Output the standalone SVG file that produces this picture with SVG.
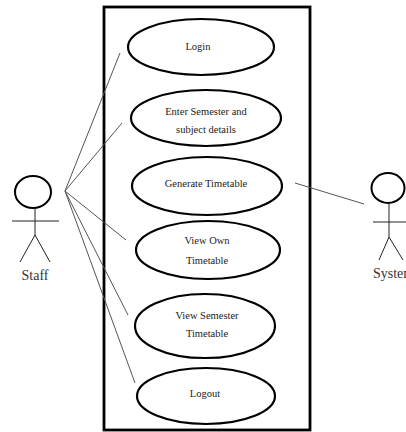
<svg xmlns="http://www.w3.org/2000/svg" width="406" height="432" viewBox="0 0 406 432">
<style>
.uc ellipse{fill:#fff;stroke:#000;stroke-width:2.2}
.lbl{font-family:"Liberation Serif","Times New Roman",serif;font-size:10.5px;fill:#222;text-anchor:middle}
.act{fill:none;stroke:#222;stroke-width:1}
.head{fill:none;stroke:#000;stroke-width:2}
.aname{font-family:"Liberation Serif","Times New Roman",serif;font-size:14px;fill:#333}
.conn line{stroke:#555;stroke-width:1}
</style>
<rect width="406" height="432" fill="#fff"/>
<rect id="boundary" x="104" y="7" width="206" height="423" fill="none" stroke="#000" stroke-width="2.8"/>
<g id="connectors" class="conn">
<line x1="65" y1="191" x2="120" y2="53"/>
<line x1="65" y1="191" x2="122" y2="123"/>
<line x1="65" y1="191" x2="126" y2="240"/>
<line x1="65" y1="191" x2="128" y2="315"/>
<line x1="65" y1="191" x2="135" y2="383"/>
<line x1="295" y1="183" x2="364" y2="204"/>
</g>
<g id="uc-login" class="uc"><ellipse cx="201" cy="47" rx="73" ry="28"/><text class="lbl" x="198" y="50">Login</text></g>
<g id="uc-enter" class="uc"><ellipse cx="206" cy="118" rx="75" ry="28"/><text class="lbl" x="206" y="115">Enter Semester and</text><text class="lbl" x="206" y="133">subject details</text></g>
<g id="uc-generate" class="uc"><ellipse cx="207" cy="186" rx="75" ry="29"/><text class="lbl" x="206" y="187">Generate Timetable</text></g>
<g id="uc-viewown" class="uc"><ellipse cx="208" cy="250" rx="72" ry="29"/><text class="lbl" x="207" y="244">View Own</text><text class="lbl" x="207" y="264">Timetable</text></g>
<g id="uc-viewsem" class="uc"><ellipse cx="205" cy="326" rx="70" ry="32"/><text class="lbl" x="207" y="319">View Semester</text><text class="lbl" x="207" y="337">Timetable</text></g>
<g id="uc-logout" class="uc"><ellipse cx="206" cy="396" rx="69" ry="28"/><text class="lbl" x="205" y="397">Logout</text></g>
<g id="actor-staff">
<ellipse class="head" cx="33" cy="192" rx="18" ry="16"/>
<line class="act" x1="35" y1="208" x2="35" y2="235"/>
<line class="act" x1="12" y1="221" x2="59" y2="221"/>
<line class="act" x1="35" y1="235" x2="20" y2="262"/>
<line class="act" x1="35" y1="235" x2="50" y2="262"/>
<text class="aname" x="35" y="280" text-anchor="middle">Staff</text>
</g>
<g id="actor-system">
<ellipse class="head" cx="388" cy="188" rx="16.5" ry="15"/>
<line class="act" x1="389" y1="203" x2="389" y2="237"/>
<line class="act" x1="373" y1="222" x2="406" y2="222"/>
<line class="act" x1="389" y1="237" x2="379" y2="260"/>
<line class="act" x1="389" y1="237" x2="403" y2="260"/>
<text class="aname" x="373" y="278">System</text>
</g>
</svg>
